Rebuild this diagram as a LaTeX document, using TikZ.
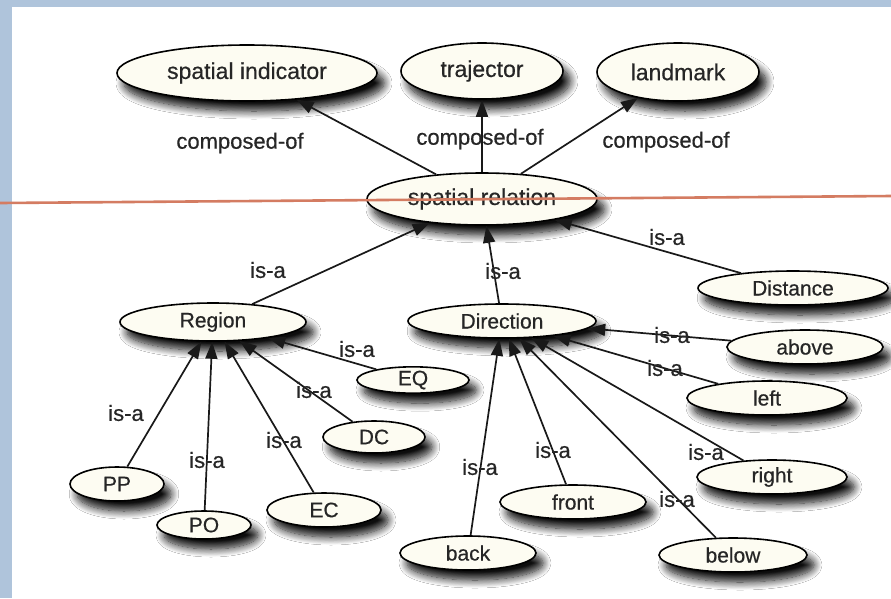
\documentclass[tikz,border=0pt]{standalone}
\usepackage{fontspec}
\setmainfont{Liberation Sans}[FakeBold=0.5]
\usetikzlibrary{shapes.geometric,arrows.meta,shadows.blur}
\definecolor{ivoryfill}{HTML}{FDFCF2}
\definecolor{framebar}{HTML}{AFC4DB}
\definecolor{cutline}{HTML}{D47C62}
\begin{document}
\begin{tikzpicture}[x=1pt,y=-1pt,
  concept/.style={ellipse, draw=black, line width=1.6pt, fill=ivoryfill,
    inner sep=0pt, text=black!85, font=\fontsize{21}{24}\selectfont,
    blur shadow={shadow xshift=7pt, shadow yshift=-10pt,
      shadow blur radius=8pt, shadow blur steps=12, shadow opacity=95}},
  topconcept/.style={concept, font=\fontsize{23}{26}\selectfont},
  rel/.style={draw=black!90, line width=1.7pt,
    -{Triangle[length=17pt,width=12pt]}},
  lbl/.style={text=black!85, inner sep=0pt, font=\fontsize{22}{25}\selectfont}]

% page and frame
\useasboundingbox (0,0) rectangle (891,598);
\fill[white] (0,0) rectangle (891,598);
\fill[framebar] (0,0) rectangle (891,7);
\fill[framebar] (0,0) rectangle (12,598);

% concepts
\node[topconcept, minimum width=260pt, minimum height=56pt] (si) at (247,73) {spatial indicator};
\node[topconcept, minimum width=162pt, minimum height=56pt] (tr) at (482,71) {trajector};
\node[topconcept, minimum width=162pt, minimum height=58pt] (lm) at (678,72) {landmark};
\node[topconcept, minimum width=230pt, minimum height=52pt] (sr) at (482,199) {spatial relation};

\node[concept, minimum width=186pt, minimum height=38pt] (reg) at (213,322) {Region};
\node[concept, minimum width=188pt, minimum height=34pt] (dir) at (502,321) {Direction};
\node[concept, minimum width=190pt, minimum height=34pt] (dis) at (793,288) {Distance};

\node[concept, minimum width=156pt, minimum height=34pt] (abv) at (805,347) {above};
\node[concept, minimum width=160pt, minimum height=34pt] (lft) at (767,398) {left};
\node[concept, minimum width=150pt, minimum height=34pt] (rgt) at (772,477) {right};
\node[concept, minimum width=146pt, minimum height=34pt] (frt) at (573,502) {front};
\node[concept, minimum width=136pt, minimum height=34pt] (bck) at (468,553) {back};
\node[concept, minimum width=148pt, minimum height=34pt] (blw) at (733,555) {below};

\node[concept, minimum width=112pt, minimum height=26pt] (eq) at (413,380) {EQ};
\node[concept, minimum width=102pt, minimum height=32pt] (dc) at (374,437) {DC};
\node[concept, minimum width=114pt, minimum height=34pt] (ec) at (324,510) {EC};
\node[concept, minimum width=94pt, minimum height=28pt] (po) at (204,525) {PO};
\node[concept, minimum width=94pt, minimum height=34pt] (pp) at (117,484) {PP};

% relations
\draw[rel] (sr) -- (si);
\draw[rel] (sr) -- (tr);
\draw[rel] (sr) -- (lm);
\draw[rel] (reg) -- (sr);
\draw[rel] (dir) -- (sr);
\draw[rel] (dis) -- (sr);
\draw[rel] (eq) -- (reg);
\draw[rel] (dc) -- (reg);
\draw[rel] (ec) -- (reg);
\draw[rel] (po) -- (reg);
\draw[rel] (pp) -- (reg);
\draw[rel] (abv) -- (dir);
\draw[rel] (lft) -- (dir);
\draw[rel] (rgt) -- (dir);
\draw[rel] (frt) -- (dir);
\draw[rel] (bck) -- (dir);
\draw[rel] (blw) -- (dir);

% relation labels
\node[lbl] (c1) at (240,143) {composed-of};
\node[lbl] (c2) at (480,139) {composed-of};
\node[lbl] (c3) at (666,142) {composed-of};
\node[lbl] (l1) at (268,270) {is-a};
\node[lbl] (l2) at (503,271) {is-a};
\node[lbl] (l3) at (667,237) {is-a};
\node[lbl] (l4) at (357,349) {is-a};
\node[lbl] (l5) at (314,390) {is-a};
\node[lbl] (l6) at (284,440) {is-a};
\node[lbl] (l7) at (207,460) {is-a};
\node[lbl] (l8) at (126,413) {is-a};
\node[lbl] (l9) at (672,335) {is-a};
\node[lbl] (l10) at (665,368) {is-a};
\node[lbl] (l11) at (706,452) {is-a};
\node[lbl] (l12) at (553,450) {is-a};
\node[lbl] (l13) at (480,467) {is-a};
\node[lbl] (l14) at (677,499) {is-a};

% ruled line across the page
\coordinate (cutA) at (0,203);
\coordinate (cutB) at (891,196);
\draw[cutline, line width=2.6pt] (cutA) -- (cutB);
\end{tikzpicture}
\end{document}
